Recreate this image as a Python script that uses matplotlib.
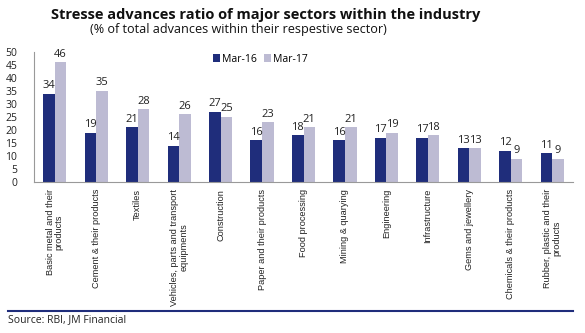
import numpy as np
import matplotlib.pyplot as plt
from matplotlib.lines import Line2D

sectors = ['Basic metal and their\nproducts', 'Cement & their products', 'Textiles',
           'Vehicles, parts and transport\nequipments', 'Construction', 'Paper and their products',
           'Food processing', 'Mining & quarying', 'Engineering', 'Infrastructure',
           'Gems and jewellery', 'Chemicals & their products', 'Rubber, plastic and their\nproducts']
mar16 = [34, 19, 21, 14, 27, 16, 18, 16, 17, 17, 13, 12, 11]
mar17 = [46, 35, 28, 26, 25, 23, 21, 21, 19, 18, 13, 9, 9]
yticks = [0, 5, 10, 15, 20, 25, 30, 35, 40, 45, 50]

navy = '#1f2d7b'
lilac = '#bdbbd3'
txt = '#222222'
plt.rcParams['font.family'] = ['Open Sans', 'DejaVu Sans']

fig = plt.figure(figsize=(5.85, 3.33), dpi=100)
ax = fig.add_axes([34 / 585, 1 - 182 / 333, 539 / 585, 130 / 333])

x = np.arange(len(sectors))
w = 0.28
b1 = ax.bar(x - w / 2, mar16, w, color=navy, label='Mar-16')
b2 = ax.bar(x + w / 2, mar17, w, color=lilac, label='Mar-17')
for bars in (b1, b2):
    for r in bars:
        ax.text(r.get_x() + r.get_width() / 2, r.get_height() + 1, f'{r.get_height():.0f}',
                ha='center', va='bottom', fontsize=8, color=txt)

ax.set_xlim(-0.5, len(sectors) - 0.5)
ax.set_ylim(0, 50)
ax.set_yticks(yticks)
ax.set_yticklabels([str(t) for t in yticks], fontsize=7.5, color=txt)
ax.set_xticks(x)
ax.set_xticklabels(sectors, rotation=90, fontsize=6.6, va='top', ha='center',
                   multialignment='center', color=txt, family='Liberation Sans',
                   linespacing=1.05)
ax.tick_params(length=0, pad=5)
ax.tick_params(axis='y', pad=12)
for s in ['top', 'right']:
    ax.spines[s].set_visible(False)
for s in ['left', 'bottom']:
    ax.spines[s].set_color('#999999')
    ax.spines[s].set_linewidth(0.8)

ax.legend(loc='upper center', bbox_to_anchor=(0.42, 1.06), ncol=2, frameon=False,
          handlelength=0.7, handleheight=0.7, handletextpad=0.2,
          columnspacing=0.6, prop={'family': 'Open Sans', 'size': 7.5})

fig.text(266 / 585, 1 - 15 / 333, 'Stresse advances ratio of major sectors within the industry',
         ha='center', va='center', fontsize=10.5, fontweight='bold', color='#111111')
fig.text(238 / 585, 1 - 30 / 333, '(% of total advances within their respestive sector)',
         ha='center', va='center', fontsize=9.1, color='#111111')

fig.add_artist(Line2D([8 / 585, 573 / 585], [1 - 311 / 333, 1 - 311 / 333],
                      color=navy, lw=1.5, transform=fig.transFigure))
fig.text(8 / 585, 1 - 320 / 333, 'Source: RBI, JM Financial', ha='left', va='center',
         fontsize=7.5, color=txt)

fig.savefig('out.png', dpi=100)
